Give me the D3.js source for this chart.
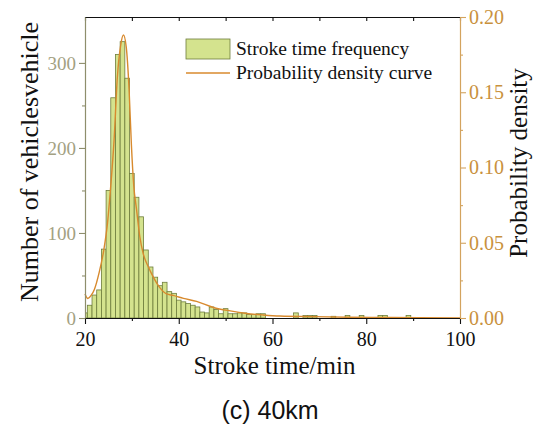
<!DOCTYPE html>
<html>
<head>
<meta charset="utf-8">
<script src="https://cdn.jsdelivr.net/npm/d3@7"></script>
<style>
  html, body { margin: 0; padding: 0; background: #fff; }
  svg { display: block; }
</style>
</head>
<body>
<svg id="chart" width="535" height="430"></svg>
<script>
// ---- data ----
const binCenters = [20,21,22,23,24,25,26,27,28,29,30,31,32,33,34,35,36,37,38,39,40,41,42,43,44,45,46,47,48,49,50,51,52,53,54,55,56,57,58,65,67,68,69,73,76,79,83,84,89];
const binCounts  = [6,15,27,33,81,150,259,310,325,282,170,142,119,80,60,48,38,42,31,29,21,19,17,15,13,7,6,13,10,5,11,5,5,6,6,4,4,5,5,6,3,3,3,2,3,3,3,3,3];
const binWidth = 1;

const densityX = [20,20.6,21.3,22,23,24,24.8,25.5,26.2,26.9,27.6,28.2,28.8,29.4,29.9,30.4,31,31.7,32.4,33.5,34.6,36,37.4,38.8,41,43.8,47.4,51,54.5,58,61.6,68.7,76,85,100];
const densityY = [0.016,0.013,0.015,0.019,0.030,0.045,0.063,0.088,0.118,0.160,0.181,0.188,0.180,0.152,0.115,0.088,0.072,0.054,0.043,0.034,0.027,0.020,0.016,0.015,0.013,0.011,0.007,0.0047,0.003,0.002,0.0013,0.0009,0.0005,0.0003,0.0001];

const xTicks = [20,40,60,80,100];
const xMinor = [30,50,70,90];
const yLeftTicks = [0,100,200,300];
const yLeftMinor = [50,150,250];
const yRightTicks = [0,0.05,0.10,0.15,0.20];
const yRightMinor = [0.025,0.075,0.125,0.175];

const labels = {
  xTitle: "Stroke time/min",
  yLeftTitle: "Number of vehiclesvehicle",
  yRightTitle: "Probability density",
  legendBars: "Stroke time frequency",
  legendLine: "Probability density curve",
  caption: "(c) 40km"
};

// ---- layout ----
const L = 85, R = 460, T = 17, B = 318;
const serif = "'Liberation Serif', 'Times New Roman', serif";
const sans = "'Liberation Sans', Arial, sans-serif";
const barFill = "#d4e38e", barStroke = "#6e7d3c";
const curveColor = "#d88a2e";
const rightColor = "#d3a35e", rightText = "#c9913d";
const leftColor = "#8e8e6c", leftText = "#a3a182";

const svg = d3.select("#chart");
const x = d3.scaleLinear().domain([20, 100]).range([L, R]);
const yL = d3.scaleLinear().domain([0, 354]).range([B, T]);
const yR = d3.scaleLinear().domain([0, 0.20]).range([B, T]);

svg.append("clipPath").attr("id", "plotclip")
  .append("rect").attr("x", L).attr("y", T - 5).attr("width", R - L).attr("height", B - T + 5);

const bars = binCenters.map((c, i) => ({c, v: binCounts[i]}));
svg.append("g").attr("clip-path", "url(#plotclip)")
  .selectAll("rect").data(bars).join("rect")
  .attr("x", d => x(d.c - binWidth / 2))
  .attr("width", d => x(d.c + binWidth / 2) - x(d.c - binWidth / 2))
  .attr("y", d => yL(d.v))
  .attr("height", d => yL(0) - yL(d.v))
  .attr("fill", barFill)
  .attr("stroke", barStroke)
  .attr("stroke-width", 0.8);

const line = d3.line().x(d => x(d[0])).y(d => yR(d[1])).curve(d3.curveMonotoneX);
svg.append("path")
  .datum(densityX.map((v, i) => [v, densityY[i]]))
  .attr("d", line)
  .attr("fill", "none")
  .attr("stroke", curveColor)
  .attr("stroke-width", 1.4);

// ---- axes ----
function styleAxis(g, color, textColor, size) {
  g.selectAll("path.domain").attr("stroke", color).attr("stroke-width", 1.2);
  g.selectAll(".tick line").attr("stroke", color).attr("stroke-width", 1.1);
  g.selectAll(".tick text").attr("fill", textColor).attr("font-family", serif).attr("font-size", size);
}

// bottom
const gxMinor = svg.append("g").attr("transform", `translate(0,${B})`)
  .call(d3.axisBottom(x).tickValues(xMinor).tickSize(3).tickFormat(""));
gxMinor.select("path.domain").remove();
gxMinor.selectAll(".tick line").attr("stroke", "#111").attr("stroke-width", 1.1);
const gx = svg.append("g").attr("transform", `translate(0,${B})`)
  .call(d3.axisBottom(x).tickValues(xTicks).tickSize(6).tickSizeOuter(0).tickPadding(8).tickFormat(d3.format("d")));
styleAxis(gx, "#111", "#111", 20);

// top frame
const gt = svg.append("g").attr("transform", `translate(0,${T})`)
  .call(d3.axisBottom(x).tickValues(xTicks.concat(xMinor)).tickSize(4).tickSizeOuter(0).tickFormat(""));
gt.selectAll("path.domain").attr("stroke", "#111").attr("stroke-width", 1.2);
gt.selectAll(".tick line").attr("stroke", "#111").attr("stroke-width", 1.1);

// left
const gyLMinor = svg.append("g").attr("transform", `translate(${L},0)`)
  .call(d3.axisLeft(yL).tickValues(yLeftMinor).tickSize(3).tickFormat(""));
gyLMinor.select("path.domain").remove();
gyLMinor.selectAll(".tick line").attr("stroke", leftColor).attr("stroke-width", 1.1);
const gyL = svg.append("g").attr("transform", `translate(${L},0)`)
  .call(d3.axisLeft(yL).tickValues(yLeftTicks).tickSize(6).tickSizeOuter(0).tickPadding(3).tickFormat(d3.format("d")));
styleAxis(gyL, leftColor, leftText, 19);

// right
const gyRMinor = svg.append("g").attr("transform", `translate(${R},0)`)
  .call(d3.axisRight(yR).tickValues(yRightMinor).tickSize(3).tickFormat(""));
gyRMinor.select("path.domain").remove();
gyRMinor.selectAll(".tick line").attr("stroke", rightColor).attr("stroke-width", 1.1);
const gyR = svg.append("g").attr("transform", `translate(${R},0)`)
  .call(d3.axisRight(yR).tickValues(yRightTicks).tickSize(6).tickSizeOuter(0).tickPadding(3).tickFormat(d3.format(".2f")));
styleAxis(gyR, rightColor, rightText, 20);

// ---- titles ----
svg.append("text").attr("x", (L + R) / 2 + 2).attr("y", 374)
  .attr("text-anchor", "middle").attr("font-family", serif).attr("font-size", 25).attr("fill", "#111")
  .text(labels.xTitle);
svg.append("text").attr("transform", `translate(38,162) rotate(-90)`)
  .attr("text-anchor", "middle").attr("font-family", serif).attr("font-size", 26).attr("fill", "#111")
  .text(labels.yLeftTitle);
svg.append("text").attr("transform", `translate(527,163) rotate(-90)`)
  .attr("text-anchor", "middle").attr("font-family", serif).attr("font-size", 25).attr("fill", "#111")
  .text(labels.yRightTitle);
svg.append("text").attr("x", 270).attr("y", 419)
  .attr("text-anchor", "middle").attr("font-family", sans).attr("font-size", 25).attr("fill", "#111")
  .text(labels.caption);

// ---- legend ----
const lg = svg.append("g");
lg.append("rect").attr("x", 186).attr("y", 39).attr("width", 44).attr("height", 20)
  .attr("fill", barFill).attr("stroke", barStroke).attr("stroke-width", 0.8);
lg.append("text").attr("x", 236).attr("y", 55).attr("font-family", serif).attr("font-size", 19.5).attr("fill", "#111")
  .text(labels.legendBars);
lg.append("line").attr("x1", 186).attr("x2", 230).attr("y1", 73).attr("y2", 73)
  .attr("stroke", curveColor).attr("stroke-width", 1.4);
lg.append("text").attr("x", 236).attr("y", 79).attr("font-family", serif).attr("font-size", 19.5).attr("fill", "#111")
  .text(labels.legendLine);
</script>
</body>
</html>
